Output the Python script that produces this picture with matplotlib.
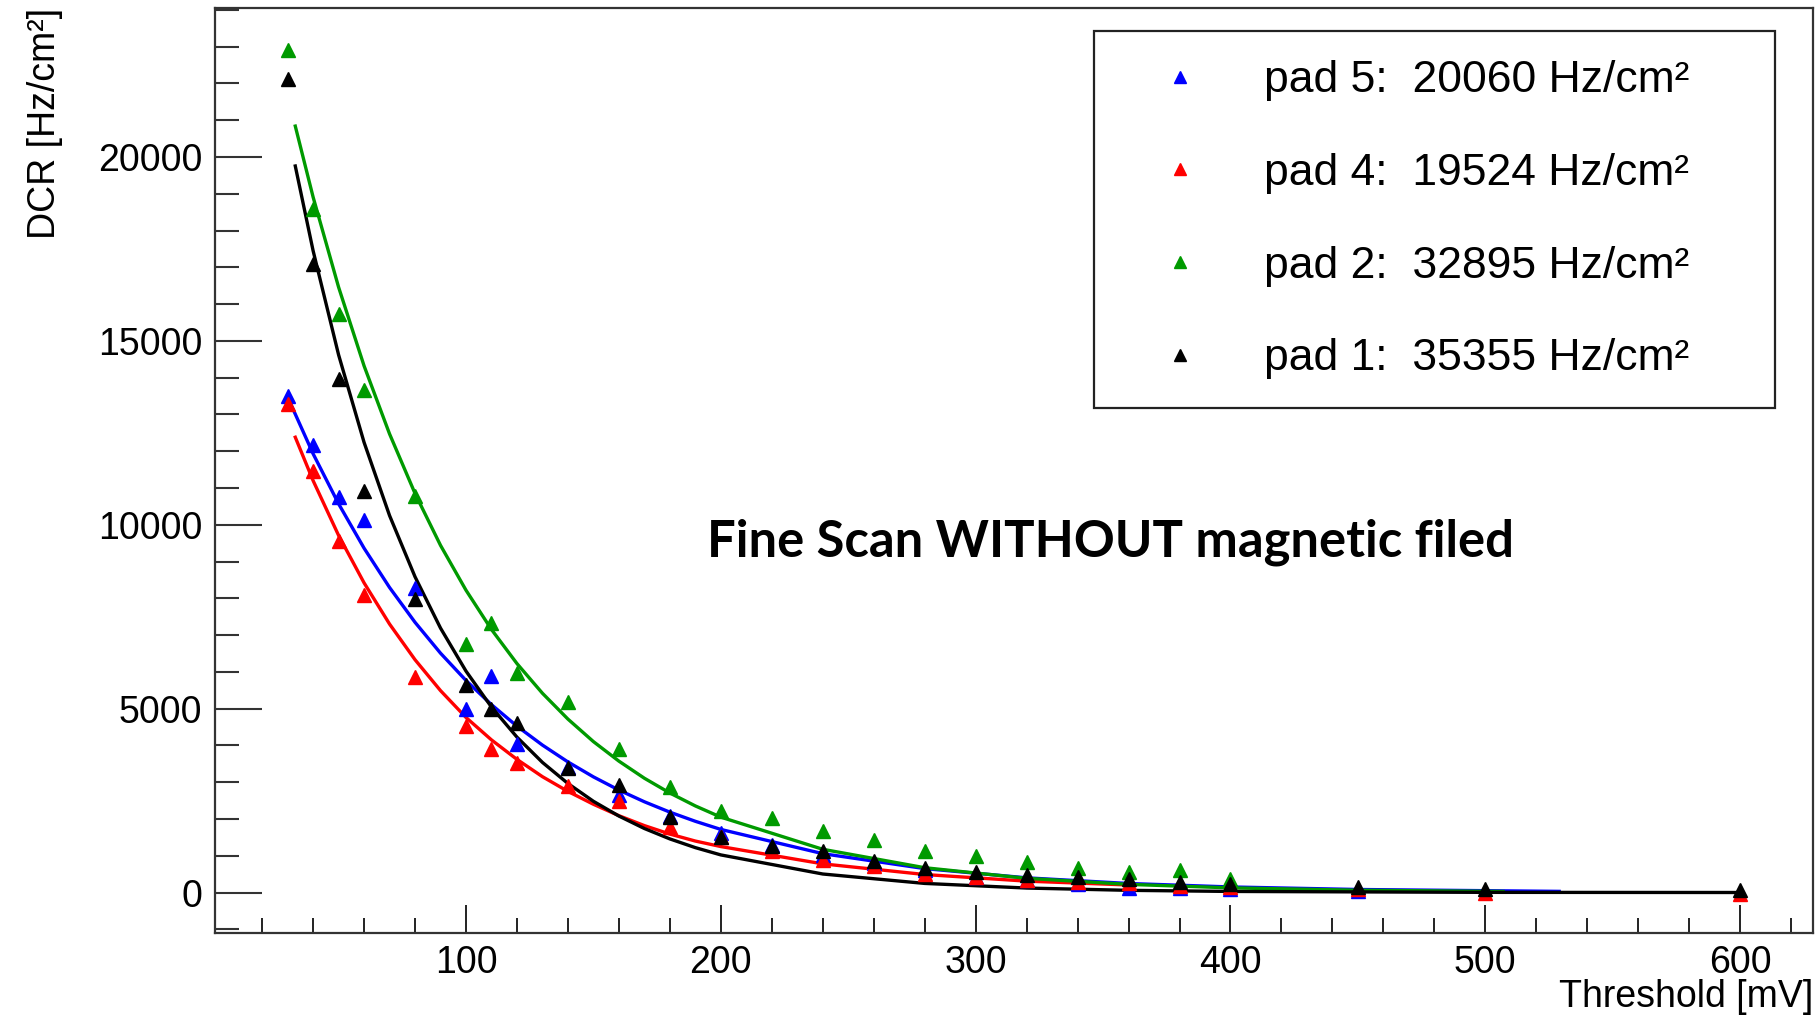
import matplotlib
matplotlib.use("Agg")
import matplotlib.pyplot as plt
from matplotlib.ticker import MultipleLocator

plt.rcParams['font.family'] = ['Liberation Sans', 'DejaVu Sans']

# ---------------- data ----------------
x_pad5 = [30, 40, 50, 60, 80, 100, 110, 120, 140, 160, 180, 200, 220, 240, 260, 280, 300, 320, 340, 360, 380, 400, 450]
y_pad5 = [13500, 12180, 10760, 10130, 8270, 4990, 5900, 4040, 3400, 2650, 2080, 1610, 1290, 1010, 790, 600, 410, 350, 220, 130, 130, 95, 30]

x_pad4 = [30, 40, 50, 60, 80, 100, 110, 120, 140, 160, 180, 200, 220, 240, 260, 280, 300, 320, 340, 360, 380, 400, 450, 500, 600]
y_pad4 = [13280, 11450, 9560, 8080, 5870, 4540, 3910, 3530, 2900, 2490, 1770, 1500, 1140, 880, 730, 500, 410, 350, 280, 250, 190, 160, 95, 0, -30]

x_pad2 = [30, 40, 50, 60, 80, 100, 110, 120, 140, 160, 180, 200, 220, 240, 260, 280, 300, 320, 340, 360, 380, 400]
y_pad2 = [22900, 18580, 15740, 13660, 10790, 6750, 7320, 5960, 5170, 3910, 2870, 2210, 2020, 1670, 1420, 1140, 980, 820, 660, 570, 600, 380]

x_pad1 = [30, 40, 50, 60, 80, 100, 110, 120, 140, 160, 180, 200, 220, 240, 260, 280, 300, 320, 340, 360, 380, 400, 450, 500, 600]
y_pad1 = [22120, 17100, 13950, 10920, 7980, 5650, 4990, 4610, 3380, 2930, 2050, 1510, 1260, 1140, 850, 660, 570, 470, 410, 380, 280, 220, 160, 95, 60]

# fit curves
fx_pad5 = [30, 40, 50, 60, 70, 80, 90, 100, 110, 120, 130, 140, 150, 160, 170, 180, 190, 200, 240, 280, 320, 360, 400, 450, 529]
fy_pad5 = [13470, 11930, 10570, 9363, 8294, 7347, 6508, 5766, 5108, 4524, 4009, 3551, 3145, 2786, 2468, 2186, 1937, 1716, 1057, 651, 400, 246, 152, 83, 32]

fx_pad4 = [33, 40, 50, 60, 70, 80, 90, 100, 110, 120, 130, 140, 150, 160, 170, 180, 190, 200, 240, 280, 320, 362]
fy_pad4 = [12380, 11200, 9710, 8420, 7300, 6330, 5490, 4760, 4150, 3620, 3150, 2750, 2400, 2090, 1820, 1590, 1400, 1250, 780, 490, 310, 200]

fx_pad2 = [33, 40, 50, 60, 70, 80, 90, 100, 110, 120, 130, 140, 150, 160, 170, 180, 190, 200, 240, 280, 320, 360, 400, 450, 507]
fy_pad2 = [20840, 18910, 16460, 14320, 12470, 10850, 9440, 8220, 7152, 6225, 5418, 4716, 4104, 3573, 3108, 2706, 2355, 2050, 1176, 675, 387, 222, 127, 63, 30]

fx_pad1 = [33, 40, 50, 60, 70, 80, 90, 100, 110, 120, 130, 140, 150, 160, 170, 180, 190, 200, 240, 280, 320, 360, 400, 500, 600]
fy_pad1 = [19755, 17450, 14620, 12240, 10250, 8585, 7190, 6020, 5043, 4225, 3538, 2965, 2481, 2080, 1741, 1458, 1221, 1023, 504, 248, 122, 60, 30, 5, 1]

labels = ["pad 5:  20060 Hz/cm\u00b2", "pad 4:  19524 Hz/cm\u00b2",
          "pad 2:  32895 Hz/cm\u00b2", "pad 1:  35355 Hz/cm\u00b2"]
colors = ["#0000ff", "#ff0000", "#009a00", "#000000"]

series = [(x_pad5, y_pad5, fx_pad5, fy_pad5),
          (x_pad4, y_pad4, fx_pad4, fy_pad4),
          (x_pad2, y_pad2, fx_pad2, fy_pad2),
          (x_pad1, y_pad1, fx_pad1, fy_pad1)]

# ---------------- figure ----------------
fig = plt.figure(figsize=(18.19, 10.17), dpi=100)
ax = fig.add_axes([0.1182, 0.0826, 0.8785, 0.9095])

handles = []
for (xs, ys, fx, fy), c, lab in zip(series, colors, labels):
    ax.plot(fx, fy, color=c, lw=2.4, zorder=2)
    h, = ax.plot(xs, ys, linestyle='none', marker='^', ms=10, color=c, zorder=3, label=lab)
    handles.append(h)

ax.set_xlim(1.5, 628.6)
ax.set_ylim(-1100, 24050)

ax.xaxis.set_major_locator(MultipleLocator(100))
ax.xaxis.set_minor_locator(MultipleLocator(20))
ax.yaxis.set_major_locator(MultipleLocator(5000))
ax.yaxis.set_minor_locator(MultipleLocator(1000))

tc = '#333333'
ax.tick_params(axis='y', which='major', direction='in', length=34, width=1.5, color=tc,
               labelsize=27, pad=9, right=False)
ax.tick_params(axis='y', which='minor', direction='in', length=17, width=1.5, color=tc, right=False)
ax.tick_params(axis='x', which='major', direction='in', length=20, width=1.3, color='#111111',
               labelsize=27, pad=9, top=False)
ax.tick_params(axis='x', which='minor', direction='in', length=11, width=1.3, color='#111111', top=False)

for sp in ax.spines.values():
    sp.set_color('#333333')
    sp.set_linewidth(1.6)

ax.set_xlabel("Threshold [mV]", fontsize=27, loc='right')
ax.xaxis.set_label_coords(1.0, -0.050)
ax.set_ylabel("DCR [Hz/cm\u00b2]", fontsize=27, loc='top')
ax.yaxis.set_label_coords(-0.095, 1.0)

leg = ax.legend(handles=handles, labels=labels, loc='upper left',
                bbox_to_anchor=(0.550, 0.573, 0.426, 0.402), mode='expand',
                borderaxespad=0, fontsize=32, frameon=True, fancybox=False,
                edgecolor='#222222', framealpha=1, borderpad=0.66,
                handlelength=2.56, handletextpad=0.61, labelspacing=1.16,
                markerscale=0.8)
leg.get_frame().set_linewidth(1.6)

ax.text(0.5607, 0.4227, "Fine Scan WITHOUT magnetic filed", transform=ax.transAxes,
        ha='center', va='center', fontsize=36.5, fontweight='bold', family=['Lato', 'DejaVu Sans'])

fig.savefig("out.png", dpi=100)
